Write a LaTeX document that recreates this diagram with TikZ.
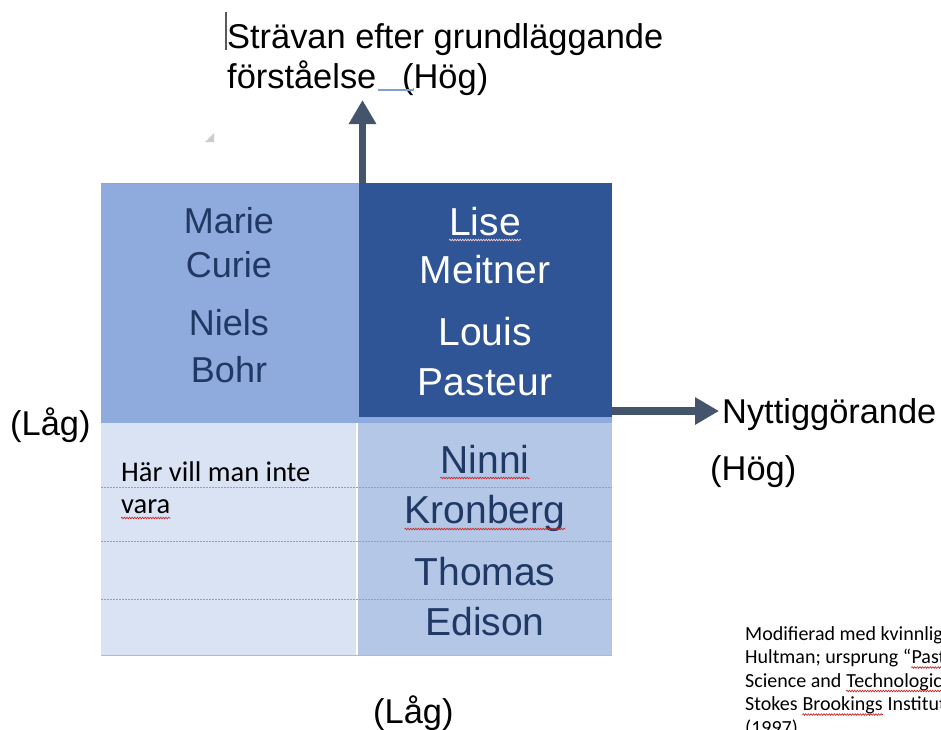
\documentclass[tikz,border=0pt]{standalone}
\usepackage{fontspec}
\setmainfont{Liberation Sans}
\newfontfamily\calib{Carlito}
\usetikzlibrary{arrows.meta,decorations.pathmorphing}
\definecolor{tlc}{HTML}{8FAADC}
\definecolor{trc}{HTML}{2F5597}
\definecolor{blc}{HTML}{DAE3F3}
\definecolor{brc}{HTML}{B4C7E7}
\definecolor{navy}{HTML}{1F3864}
\definecolor{axisc}{HTML}{44546A}
\definecolor{spellc}{HTML}{D02828}
\definecolor{uline}{HTML}{7F9FCF}
\begin{document}
\begin{tikzpicture}[x=1pt,y=-1pt,
  cell/.style={draw=none,inner sep=0,outer sep=0},
  lbl/.style={inner sep=0,anchor=base west,font=\fontsize{34.4}{40}\selectfont},
  namel/.style={inner sep=0,anchor=base,text=navy,font=\fontsize{36}{40}\selectfont},
  namer/.style={inner sep=0,anchor=base,text=white,font=\fontsize{39}{44}\selectfont},
  nameb/.style={inner sep=0,anchor=base,text=navy,font=\fontsize{39}{44}\selectfont},
  cal/.style={inner sep=0,anchor=base west,font=\calib\fontsize{28.5}{33}\selectfont},
  note/.style={inner sep=0,anchor=base west,font=\calib\fontsize{20}{24}\selectfont},
  rowline/.style={draw=gray!75,line width=0.8pt,dash pattern=on 2pt off 1pt},
  axisarrow/.style={draw=axisc,line width=7.5pt,-{Triangle[width=26pt,length=24pt,fill=axisc]}},
  spell/.style={draw=spellc,line width=0.7pt,decorate,decoration={snake,amplitude=0.8pt,segment length=2.6pt}}
]
\useasboundingbox (0,0) rectangle (941,729);
\fill[white] (0,0) rectangle (941,729);

% grid background and cells
\fill[tlc] (101,183) rectangle (612,655);
\node[cell,fill=tlc,minimum width=258pt,minimum height=240pt] (tl) at (230,303) {};
\node[cell,fill=trc,minimum width=253pt,minimum height=234pt] (tr) at (485.5,300) {};
\node[cell,fill=blc,minimum width=255pt,minimum height=232pt] (bl) at (228.5,539) {};
\node[cell,fill=brc,minimum width=254pt,minimum height=232pt] (br) at (485,539) {};
\fill[white] (356,423) rectangle (358,655);
\draw[rowline] (101,183) -- (359,183);
\draw[rowline] (101,487) -- (612,487);
\draw[rowline] (101,541) -- (612,541);
\draw[rowline] (101,599) -- (612,599);
\draw[gray!55,line width=0.8pt] (101,655) -- (612,655);

% axes
\coordinate (vstart) at (362.5,183);
\coordinate (vend) at (362.5,100);
\coordinate (hstart) at (612,411);
\coordinate (hend) at (719,411);
\draw[axisarrow] (vstart) -- (vend);
\draw[axisarrow] (hstart) -- (hend);

% top label
\draw[gray!70!black,line width=1.1pt] (226,12) -- (226,50);
\node[lbl] (t1) at (227,48) {Strävan efter grundläggande};
\node[lbl] (t2) at (227,88) {förståelse};
\node[lbl] (t3) at (402,88) {(Hög)};
\draw[uline,line width=1.4pt] (t2.base east) ++(1,2) -- ++(36,0) -- ++(0,-2);
\fill[gray!40] (205,142) -- (214,142) -- (214,133) -- cycle;

% other axis labels
\node[lbl] (lowl) at (10,435) {(Låg)};
\node[lbl] (lowb) at (373,723) {(Låg)};
\node[lbl] (hr1) at (722,423) {Nyttiggörande};
\node[lbl] (hr2) at (710,480) {(Hög)};

% top-left names
\node[namel] (marie) at (229,233) {Marie};
\node[namel] (curie) at (229,277) {Curie};
\node[namel] (niels) at (229,335) {Niels};
\node[namel] (bohr) at (229,382) {Bohr};

% top-right names
\node[namer] (lise) at (485,235) {Lise};
\node[namer] (meitner) at (485,283) {Meitner};
\node[namer] (louis) at (485,345) {Louis};
\node[namer] (pasteur) at (485,395) {Pasteur};
\draw[spell,draw=white!80!red] ([yshift=-5pt]lise.base west) -- ([yshift=-5pt]lise.base east);

% bottom-right names
\node[nameb] (ninni) at (485,473) {Ninni};
\node[nameb] (kron) at (485,523) {Kronberg};
\node[nameb] (thomas) at (485,585) {Thomas};
\node[nameb] (edison) at (485,635) {Edison};
\draw[spell] ([yshift=-5pt]ninni.base west) -- ([yshift=-5pt]ninni.base east);
\draw[spell] ([yshift=-6pt]kron.base west) -- ([yshift=-6pt]kron.base east);

% bottom-left text
\node[cal] (har) at (121,481) {Här vill man inte};
\node[cal] (vara) at (121,513) {vara};
\draw[spell] ([yshift=-5pt]vara.base west) -- ([yshift=-5pt]vara.base east);

% source note (cut by the picture edge, as in the reference)
\begin{scope}
\clip (0,0) rectangle (941,729);
\node[note] (n1) at (745,640) {Modifierad med kvinnliga exempel av};
\node[note] (n2a) at (745,663.5) {Hultman; ursprung “};
\node[note] (n2b) at (n2a.base east) {Pasteur’s Quadrant};
\node[note] (n3a) at (745,687) {Science and};
\node[note] (n3b) at ([xshift=4.5pt]n3a.base east) {Technological};
\node[note] (n3c) at ([xshift=4.5pt]n3b.base east) {Innovation”};
\node[note] (n4a) at (745,710.5) {Stokes};
\node[note] (n4b) at ([xshift=4.5pt]n4a.base east) {Brookings};
\node[note] (n4c) at ([xshift=4.5pt]n4b.base east) {Institution Press};
\node[note] (n5) at (745,734) {(1997)};
\draw[spell] ([yshift=-4pt]n2b.base west) -- ++(90,0);
\draw[spell] ([yshift=-4pt]n3b.base west) -- ([yshift=-4pt]n3b.base east);
\draw[spell] ([yshift=-4pt]n4b.base west) -- ([yshift=-4pt]n4b.base east);
\end{scope}
\end{tikzpicture}
\end{document}
